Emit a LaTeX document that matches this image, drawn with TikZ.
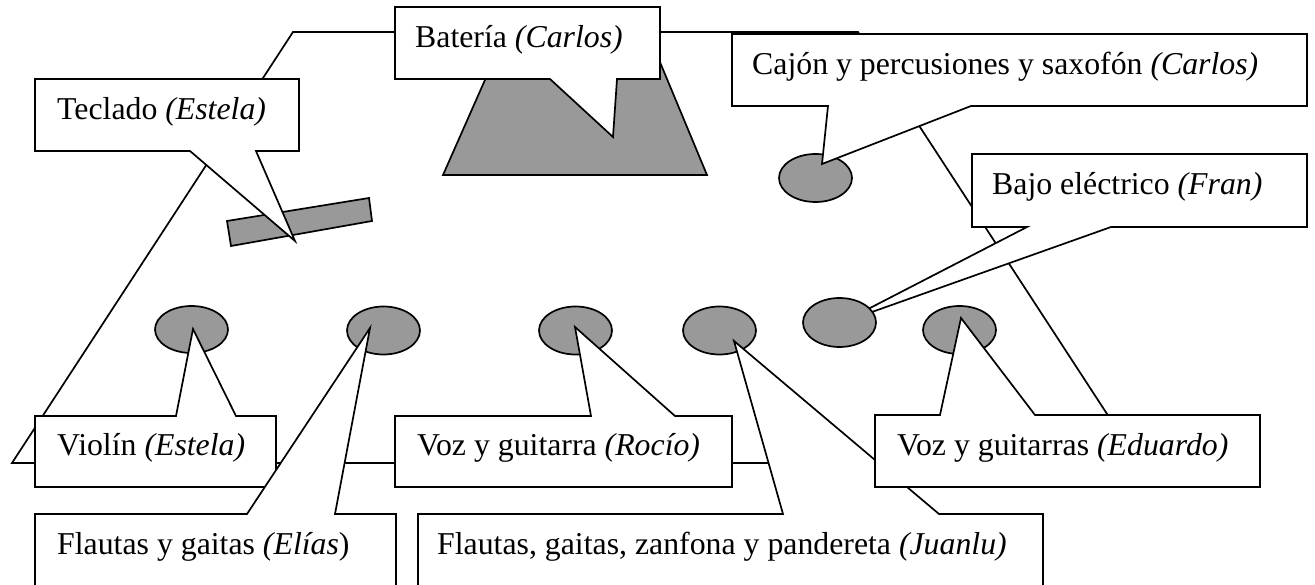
\documentclass[tikz,border=0pt]{standalone}
\usepackage{fontspec}
\setmainfont{Liberation Serif}
\definecolor{propgray}{RGB}{153,153,153}
\tikzset{
  outline/.style={draw=black, line width=1.7pt, line join=miter},
  callout/.style={outline, fill=white},
  prop/.style={outline, fill=propgray},
  lbl/.style={anchor=base west, inner sep=0pt, font=\fontsize{31.8}{38}\selectfont},
}
\begin{document}
\begin{tikzpicture}[x=1pt,y=-1pt]
\useasboundingbox (0,0) rectangle (1315,585);
\clip (0,0) rectangle (1315,585);
% stage outline
\draw[outline, fill=white] (12,463) -- (293,32) -- (858,32) -- (1139,463) -- cycle;
% drums and keyboard
\draw[prop] (443,175) -- (707,175) -- (657,55) -- (496,55) -- cycle;
\draw[prop] (227,221) -- (369,198) -- (372,221) -- (231,246) -- cycle;
% positions (ellipses)
\draw[prop] (815.5,178) ellipse [x radius=36.5pt, y radius=24pt];
\draw[prop] (191.5,329.5) ellipse [x radius=36.5pt, y radius=23.5pt];
\draw[prop] (383.5,330.5) ellipse [x radius=36.5pt, y radius=24pt];
\draw[prop] (575.5,330.5) ellipse [x radius=36.5pt, y radius=24pt];
\draw[prop] (719.5,330.5) ellipse [x radius=36.5pt, y radius=24pt];
\draw[prop] (959.5,330) ellipse [x radius=36.5pt, y radius=24pt];
% callouts
\draw[callout] (35,79) -- (299,79) -- (299,151) -- (256,151) -- (295,241) -- (190,151) -- (35,151) -- cycle;
\draw[callout] (395,7) -- (660,7) -- (660,79) -- (617,79) -- (613,137) -- (550,79) -- (395,79) -- cycle;
\draw[callout] (732,34) -- (1307,34) -- (1307,106) -- (971,106) -- (822,164) -- (828,106) -- (732,106) -- cycle;
\draw[callout] (972,154) -- (1307,154) -- (1307,227) -- (1111,227) -- (841,323) -- (1027,227) -- (972,227) -- cycle;
\draw[callout] (35,416) -- (176,416) -- (193,329) -- (236,416) -- (276,416) -- (276,487) -- (35,487) -- cycle;
\draw[callout] (35,514) -- (247,514) -- (370,328) -- (335,514) -- (396,514) -- (396,640) -- (35,640) -- cycle;
\draw[callout] (395,416) -- (591,416) -- (575,327) -- (675,416) -- (732,416) -- (732,487) -- (395,487) -- cycle;
\draw[callout] (418,514) -- (783,514) -- (734,341) -- (939,514) -- (1043,514) -- (1043,640) -- (418,640) -- cycle;
\draw[callout] (875,415) -- (940,415) -- (961,318) -- (1035,415) -- (1260,415) -- (1260,487) -- (875,487) -- cycle;
% bass position drawn over its callout
\draw[prop] (839.5,322.5) ellipse [x radius=36.5pt, y radius=24.5pt];
% labels
\node[lbl] (teclado) at (57,120) {Teclado \textit{(Estela)}};
\node[lbl] (bateria) at (415,48) {Batería \textit{(Carlos)}};
\node[lbl] (cajon) at (752,75) {Cajón y percusiones y saxofón \textit{(Carlos)}};
\node[lbl] (bajo) at (992,195) {Bajo eléctrico \textit{(Fran)}};
\node[lbl] (violin) at (57,455) {Violín \textit{(Estela)}};
\node[lbl] (rocio) at (417,455) {Voz y guitarra \textit{(Rocío)}};
\node[lbl] (eduardo) at (897,455) {Voz y guitarras \textit{(Eduardo)}};
\node[lbl] (elias) at (57,554) {Flautas y gaitas \textit{(Elías})};
\node[lbl] (juanlu) at (437,554) {Flautas, gaitas, zanfona y pandereta \textit{(Juanlu)}};
\end{tikzpicture}
\end{document}
